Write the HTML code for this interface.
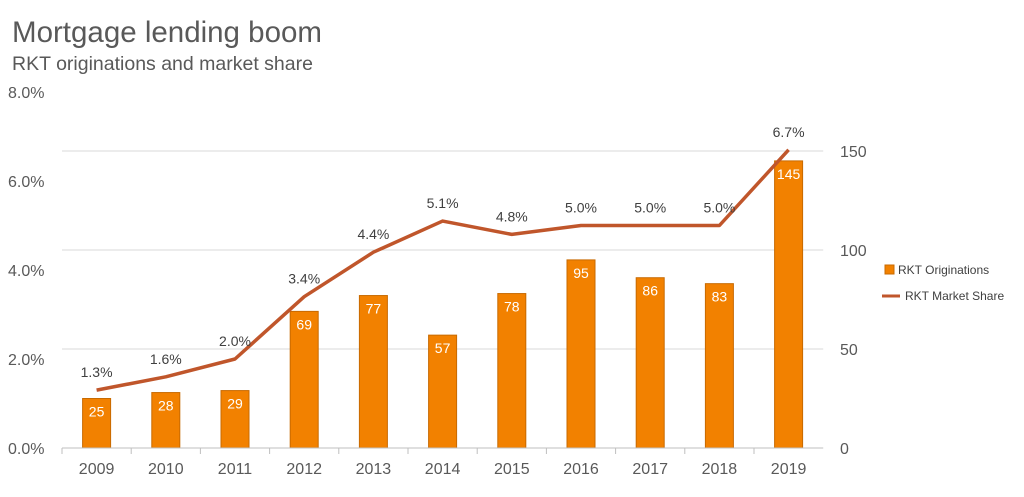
<!DOCTYPE html>
<html><head><meta charset="utf-8"><style>
body{margin:0;background:#fff;font-family:"Liberation Sans",sans-serif;}
svg text{font-family:"Liberation Sans",sans-serif;}
</style></head><body>
<svg id="chart" width="1024" height="492" xmlns="http://www.w3.org/2000/svg">
<text x="12" y="42" font-size="29.5" fill="#595959">Mortgage lending boom</text>
<text x="12" y="70" font-size="19.5" fill="#595959">RKT originations and market share</text>
<g id="grid"></g><g id="bars"></g><g id="line"></g><g id="labels"></g><g id="axes"></g>
<g>
<rect x="885" y="265" width="9" height="9" fill="#F28100" stroke="#C86A00"/>
<text x="898" y="274" font-size="12" fill="#404040">RKT Originations</text>
<line x1="882" y1="296" x2="900" y2="296" stroke="#C0562B" stroke-width="3"/>
<text x="905" y="300" font-size="12" fill="#404040">RKT Market Share</text>
</g>
</svg>
<script>
const years=["2009","2010","2011","2012","2013","2014","2015","2016","2017","2018","2019"];
const originations=[25,28,29,69,77,57,78,95,86,83,145];
const marketShare=[1.3,1.6,2.0,3.4,4.4,5.1,4.8,5.0,5.0,5.0,6.7];
const leftTicks=[0,2,4,6,8];
const rightTicks=[0,50,100,150];
const NS="http://www.w3.org/2000/svg";
const x0=62,step=69.2,y0=448;
const xc=i=>x0+step*(i+0.5);
const yL=v=>y0-v*44.5;
const yR=v=>y0-v*1.98;
function mk(tag,attrs,parent,txt){const e=document.createElementNS(NS,tag);for(const k in attrs)e.setAttribute(k,attrs[k]);if(txt!==undefined)e.textContent=txt;document.getElementById(parent).appendChild(e);return e;}
rightTicks.forEach(t=>{if(t>0){const g=mk('line',{x1:x0,x2:x0+step*11,y1:yR(t),y2:yR(t),stroke:'#D9D9D9','stroke-width':1},'grid');

}
const l=mk('text',{x:840,y:yR(t)+6,'font-size':16,fill:'#595959'},'axes',String(t));

});
leftTicks.forEach(t=>{const l=mk('text',{x:8,y:yL(t)+6,'font-size':16,fill:'#595959'},'axes',t.toFixed(1)+'%');

});
const ax=mk('line',{x1:x0,x2:x0+step*11,y1:y0,y2:y0,stroke:'#BFBFBF','stroke-width':1},'axes');


years.forEach((y,i)=>{
const tk=mk('line',{x1:x0+step*i,x2:x0+step*i,y1:y0,y2:y0+6,stroke:'#BFBFBF'},'axes');


const t=mk('text',{x:xc(i),y:y0+26,'font-size':16,fill:'#595959','text-anchor':'middle'},'axes',y);


const v=originations[i];
const b=mk('rect',{x:xc(i)-14,y:yR(v),width:28,height:y0-yR(v),fill:'#F28100',stroke:'#C86A00','stroke-width':1},'bars');


const bl=mk('text',{x:xc(i),y:yR(v)+18,'font-size':14,fill:'#fff','text-anchor':'middle'},'labels',String(v));


const ml=mk('text',{x:xc(i),y:yL(marketShare[i])-13,'font-size':14,fill:'#404040','text-anchor':'middle'},'labels',marketShare[i].toFixed(1)+'%');


});
const pts=marketShare.map((v,i)=>xc(i)+','+yL(v)).join(' ');
const pl=mk('polyline',{points:pts,fill:'none',stroke:'#C0562B','stroke-width':3.5,'stroke-linejoin':'round'},'line');


</script>
</body></html>
